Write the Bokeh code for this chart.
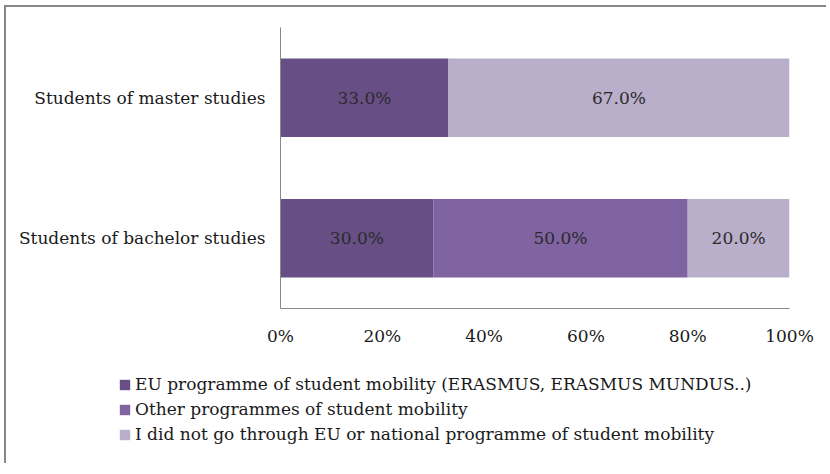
from bokeh.plotting import figure
from bokeh.layouts import column
from bokeh.models import ColumnDataSource, Legend, LegendItem, FixedTicker
from bokeh.core.properties import value
from bokeh.embed import file_html
from bokeh.resources import INLINE

categories = ["Students of bachelor studies", "Students of master studies"]
series = ["EU programme of student mobility (ERASMUS, ERASMUS MUNDUS..)",
          "Other programmes of student mobility",
          "I did not go through EU or national programme of student mobility"]
eu = [30.0, 33.0]
other = [50.0, 0.0]
none_ = [20.0, 67.0]
colors = ["#674F86", "#8064A2", "#B9AFCB"]
xticks = [0, 20, 40, 60, 80, 100]
FONT = "DejaVu Serif"
FS = "17px"
TXT = "#1a1a1a"
W = 824

src = ColumnDataSource(dict(cat=categories, eu=eu, other=other, none=none_))

p = figure(y_range=categories, x_range=(0, 100), width=W, height=348,
           output_backend="svg", toolbar_location=None,
           min_border_left=274, min_border_right=W - 783, min_border_top=20, min_border_bottom=47)
p.y_range.range_padding = 0
p.outline_line_color = None
p.grid.visible = False
p.frame_align = False

p.hbar_stack(["eu", "other", "none"], y="cat", height=0.56, source=src,
             color=colors, line_color=None)

lab_x, lab_y, lab_t = [], [], []
for i, c in enumerate(categories):
    left = 0.0
    for vals in (eu, other, none_):
        v = vals[i]
        if v > 0:
            lab_x.append(left + v / 2)
            lab_y.append(c)
            lab_t.append(f"{v:.1f}%")
        left += v
p.text(x=lab_x, y=lab_y, text=lab_t, text_align="center", text_baseline="middle",
       text_font=value(FONT), text_font_size=FS, text_color="#2a2a2a")

for ax in (p.xaxis, p.yaxis):
    ax.axis_line_color = "#898989"
    ax.major_tick_line_color = None
    ax.minor_tick_line_color = None
    ax.major_tick_out = 0
    ax.major_tick_in = 0
    ax.major_label_text_font = FONT
    ax.major_label_text_font_size = FS
    ax.major_label_text_color = TXT
p.xaxis.ticker = FixedTicker(ticks=xticks)
p.xaxis.major_label_overrides = {t: f"{t}%" for t in xticks}
p.xaxis.major_label_standoff = 17
p.yaxis.major_label_standoff = 15

# legend panel
p2 = figure(width=W, height=110, output_backend="svg", toolbar_location=None,
            min_border=0, x_range=(0, 100), y_range=categories)
p2.frame_align = False
p2.axis.visible = False
p2.grid.visible = False
p2.outline_line_color = None
leg_r = p2.hbar_stack(["eu", "other", "none"], y="cat", height=0.56, source=src,
                      color=colors, line_color=None)
for r in leg_r:
    r.visible = False
legend = Legend(items=[LegendItem(label=s, renderers=[r]) for s, r in zip(series, leg_r)],
                location=(112, 21), orientation="vertical",
                glyph_width=13, glyph_height=13, label_height=20, label_standoff=4,
                spacing=5, padding=0, margin=0, border_line_color=None,
                background_fill_alpha=0, inactive_fill_alpha=0,
                label_text_font=FONT, label_text_font_size=FS, label_text_color=TXT)
p2.add_layout(legend, "center")

layout = column(p, p2, spacing=0)
layout.styles = {"margin-left": "6px", "margin-top": "7px",
                 "box-shadow": "-2px -2px 0 0 #878787",
                 "clip-path": "inset(-3px 4px 0px -3px)"}

open("out.html", "w").write(file_html(layout, INLINE))
